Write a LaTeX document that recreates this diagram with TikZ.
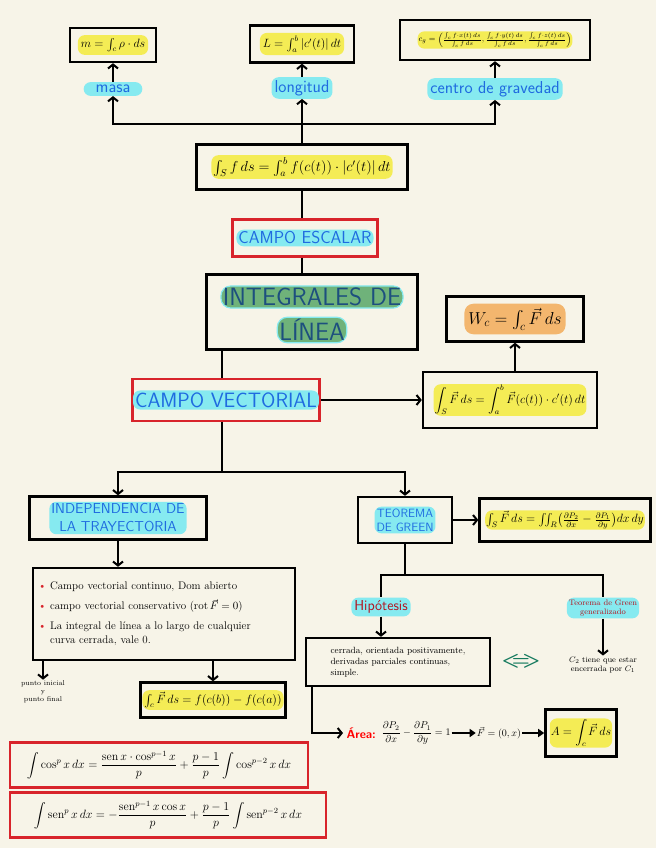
\documentclass[tikz,border=0pt]{standalone}
\usepackage{amsmath,amssymb}
\usetikzlibrary{positioning,arrows.meta}
\DeclareMathOperator{\sen}{sen}
\definecolor{paper}{HTML}{F7F4E8}
\definecolor{hlyellow}{HTML}{F4EC55}
\definecolor{hlcyan}{HTML}{86EAF0}
\definecolor{hlorange}{HTML}{F3B66E}
\definecolor{hlgreen}{HTML}{6FB27A}
\definecolor{inkblue}{HTML}{1F6BE0}
\definecolor{inkdark}{HTML}{1D4F7E}
\definecolor{boxred}{HTML}{D8242B}
\definecolor{inkred}{HTML}{B3121E}
\definecolor{iffteal}{HTML}{157A5E}
\tikzset{
  box/.style={draw,line width=2.4pt,inner sep=0},
  redbox/.style={draw=boxred,line width=2.4pt,inner sep=0},
  hly/.style={fill=hlyellow,rounded corners=7pt,inner sep=3pt},
  hlo/.style={fill=hlorange,rounded corners=9pt,inner sep=4pt},
  hlc/.style={fill=hlcyan,rounded corners=7pt,inner sep=3pt,text=inkblue,font=\sffamily},
  hlg/.style={fill=hlgreen,draw=hlcyan,line width=1.2pt,rounded corners=10pt,inner sep=2pt,
              text=inkdark,font=\sffamily\fontsize{25}{28}\selectfont},
  % handwritten notes without a box
  note/.style={font=\footnotesize,align=center,inner sep=1pt},
  link/.style={line width=2pt},
  arrow/.style={-{Straight Barb[length=4pt,width=10pt]},line width=2pt},
  fat/.style={-{Triangle[length=6pt,width=8pt]},line width=2.8pt},
}

\begin{document}
\begin{tikzpicture}[x=1pt,y=-1pt]
  \fill[paper] (0,0) rectangle (656,848);
  % applications of the scalar line integral
  \node[box,minimum width=86,minimum height=34] (masabox) at (113,45) {};
  \node[hly,font=\large] at (masabox) {$m=\int_c \rho\cdot ds$};
  \node[box,minimum width=104,minimum height=37] (longbox) at (302,44) {};
  \node[hly,font=\large] at (longbox) {$L=\int_a^b |c'(t)|\,dt$};
  \node[box,minimum width=190,minimum height=40] (centbox) at (495,40) {};
  \node[hly,inner sep=1pt,font=\footnotesize] at (centbox)
    {$c_g=\Bigl(\frac{\int_c f\cdot x(t)\,ds}{\int_c f\,ds},\frac{\int_c f\cdot y(t)\,ds}{\int_c f\,ds},\frac{\int_c f\cdot z(t)\,ds}{\int_c f\,ds}\Bigr)$};
  \node[hlc,font=\sffamily\LARGE,inner xsep=12pt] (masalab) at (113,89) {masa};
  \node[hlc,font=\sffamily\LARGE] (longlab) at (302,88) {longitud};
  \node[hlc,font=\sffamily\LARGE] (centlab) at (495,89) {centro de gravedad};
  \draw[arrow] (masalab) -- (masabox);
  \draw[arrow] (longlab) -- (longbox);
  \draw[arrow] (centlab) -- (centbox);
  \node[box,minimum width=211,minimum height=45] (scalbox) at (302,167) {};
  \node[hly,font=\Large,inner sep=2pt] at (scalbox) {$\int_S f\,ds=\int_a^b f(c(t))\cdot|c'(t)|\,dt$};
  \coordinate (split) at (302,124);
  \draw[link] (scalbox) -- (split);
  \draw[arrow] (split) -| (masalab);
  \draw[arrow] (split) -- (longlab);
  \draw[arrow] (split) -| (centlab);
  % centre of the map
  \node[redbox,minimum width=145,minimum height=37] (escbox) at (305,238) {};
  \node[hlc,font=\sffamily\LARGE,inner sep=2pt] at (escbox) {CAMPO ESCALAR};
  \node[box,minimum width=211,minimum height=75] (titlebox) at (312,312) {};
  \node[hlg] (title1) at (312,297) {INTEGRALES DE};
  \node[hlg] (title2) at (312,330) {LÍNEA};
  \draw[link] (scalbox) -- (scalbox |- escbox.north);
  \draw[link] (scalbox |- escbox.south) -- (scalbox |- titlebox.north);
  \node[redbox,minimum width=187,minimum height=42] (vecbox) at (226,400) {};
  \node[hlc,font=\sffamily\huge,inner sep=2pt] at (vecbox) {CAMPO VECTORIAL};
  \coordinate (trunk) at (222,472);
  \draw[link] (trunk |- titlebox.south) -- (trunk |- vecbox.north);
  % work
  \node[box,minimum width=174,minimum height=56] (vfbox) at (510,400) {};
  \node[hly,inner sep=1pt,font=\large] at (vfbox) {$\displaystyle\int_S\vec F\,ds=\int_a^b\vec F(c(t))\cdot c'(t)\,dt$};
  \node[box,minimum width=137,minimum height=45] (wbox) at (515,319) {};
  \node[hlo,font=\LARGE] at (wbox) {$W_c=\int_c\vec F\,ds$};
  \draw[arrow] (vecbox) -- (vfbox);
  \draw[arrow] (wbox |- vfbox.north) -- (wbox);
  % two branches below the vector field
  \draw[link] (trunk |- vecbox.south) -- (trunk);
  \node[box,minimum width=177,minimum height=43] (indbox) at (118,518) {};
  \node[hlc,font=\sffamily\Large,align=center,inner sep=2pt] at (indbox) {INDEPENDENCIA DE\\LA TRAYECTORIA};
  \node[box,minimum width=94,minimum height=46] (greenbox) at (405,520) {};
  \node[hlc,font=\sffamily\large,align=center,inner sep=2pt] at (greenbox) {TEOREMA\\DE GREEN};
  \draw[arrow] (trunk) -| (indbox);
  \draw[arrow] (trunk) -| (greenbox);
  % path independence
  \node[box,minimum width=262,minimum height=92] (listbox) at (164,614) {};
  \node[text width=252,font=\fontsize{11}{14}\selectfont,inner sep=0] at (listbox) {%
    \textcolor{boxred}{\textbullet}\ Campo vectorial continuo, Dom abierto\\[6pt]
    \textcolor{boxred}{\textbullet}\ campo vectorial conservativo ($\operatorname{rot}\vec F=0$)\\[6pt]
    \textcolor{boxred}{\textbullet}\ La integral de línea a lo largo de cualquier\\
    \phantom{\textbullet\ }curva cerrada, vale 0.};
  \draw[arrow] (indbox) -- (indbox |- listbox.north);
  \node[note,font=\scriptsize] (punto) at (43,692) {punto inicial\\y\\punto final};
  \node[box,minimum width=145,minimum height=35] (consbox) at (213,700) {};
  \node[hly,inner sep=2pt,font=\large] at (consbox) {$\int_c\vec F\,ds=f(c(b))-f(c(a))$};
  \draw[arrow] (punto |- listbox.south) -- (punto);
  \draw[arrow] (consbox |- listbox.south) -- (consbox);
  % Green's theorem
  \node[box,minimum width=171,minimum height=43] (gfbox) at (565,520) {};
  \node[hly,inner sep=1pt,font=\large] at (gfbox)
    {$\int_S\vec F\,ds=\iint_R\bigl(\frac{\partial P_2}{\partial x}-\frac{\partial P_1}{\partial y}\bigr)dx\,dy$};
  \draw[arrow] (greenbox) -- (gfbox);
  \coordinate (hsplit) at (405,575);
  \draw[link] (greenbox) -- (hsplit);
  \node[hlc,text=inkred,font=\sffamily\Large] (hiplab) at (381,607) {Hipótesis};
  \node[hlc,text=inkred,font=\footnotesize,align=center,inner sep=2pt] (genlab) at (603,608) {Teorema de Green\\generalizado};
  \draw[link] (hsplit) -| (hiplab);
  \draw[link] (hsplit) -| (genlab);
  \node[box,minimum width=184,minimum height=48] (hipbox) at (398,662) {};
  \node[align=left,font=\small,inner sep=0] at (hipbox)
    {cerrada, orientada positivamente,\\derivadas parciales continuas,\\simple.};
  \draw[arrow] (hiplab) -- (hiplab |- hipbox.north);
  \node[text=iffteal,font=\huge] (iff) at (521,661) {$\boldsymbol{<\!\!=\!\!>}$};
  \node[note] (c2note) at (603,665) {$C_2$ tiene que estar\\encerrada por $C_1$};
  \draw[arrow] (genlab) -- (c2note);
  % area
  \node[text=red,font=\sffamily\bfseries\large,anchor=west] (arealab) at (343,733) {Área:};
  \node[right=1pt of arealab,inner sep=1pt] (areaeq)
    {$\displaystyle\frac{\partial P_2}{\partial x}-\frac{\partial P_1}{\partial y}=1$};
  \node[right=24pt of areaeq,inner sep=1pt] (fzero) {$\vec F=(0,x)$};
  \node[box,minimum width=71,minimum height=47,right=22pt of fzero] (abox) {};
  \node[hly,inner sep=1pt,font=\large] at (abox) {$\displaystyle A=\int_c\vec F\,ds$};
  \draw[arrow] ([xshift=7pt]hipbox.south west) |- (arealab);
  \draw[fat] (areaeq) -- (fzero);
  \draw[fat] (fzero) -- (abox);
  % reduction formulas
  \node[redbox,minimum width=298,minimum height=45] (cosbox) at (159,765) {};
  \node[font=\large] at (cosbox)
    {$\displaystyle\int\cos^p x\,dx=\frac{\sen x\cdot\cos^{p-1}x}{p}+\frac{p-1}{p}\int\cos^{p-2}x\,dx$};
  \node[redbox,minimum width=316,minimum height=45] (senbox) at (168,815) {};
  \node[font=\large] at (senbox)
    {$\displaystyle\int\sen^p x\,dx=-\frac{\sen^{p-1}x\cos x}{p}+\frac{p-1}{p}\int\sen^{p-2}x\,dx$};
\end{tikzpicture}
\end{document}
